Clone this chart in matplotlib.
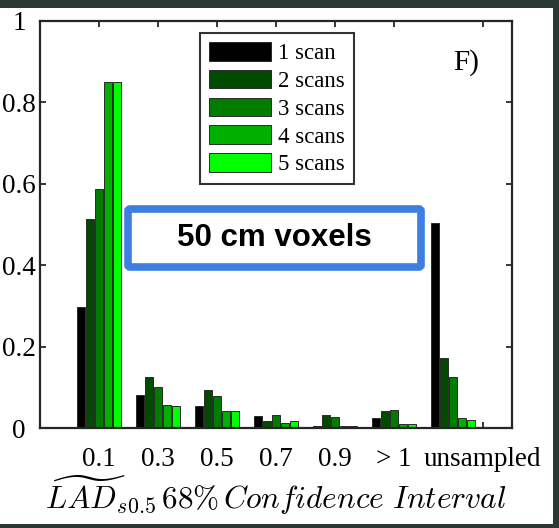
import matplotlib
matplotlib.use("Agg")
import matplotlib.pyplot as plt
from matplotlib.patches import Rectangle, FancyBboxPatch
import numpy as np

plt.rcParams['font.family'] = ['Liberation Serif', 'DejaVu Serif']
plt.rcParams['mathtext.fontset'] = 'cm'

categories = ['0.1', '0.3', '0.5', '0.7', '0.9', '> 1', 'unsampled']
series_labels = ['1 scan', '2 scans', '3 scans', '4 scans', '5 scans']
scan1 = [0.298, 0.080, 0.054, 0.029, 0.006, 0.024, 0.504]
scan2 = [0.514, 0.125, 0.093, 0.017, 0.031, 0.042, 0.171]
scan3 = [0.587, 0.101, 0.078, 0.031, 0.026, 0.045, 0.125]
scan4 = [0.849, 0.056, 0.041, 0.012, 0.005, 0.010, 0.025]
scan5 = [0.851, 0.053, 0.041, 0.017, 0.005, 0.010, 0.020]
series = [scan1, scan2, scan3, scan4, scan5]
colors = ['#000000', '#004b00', '#007d00', '#00b000', '#00ff00']
yticks = [0, 0.2, 0.4, 0.6, 0.8, 1]
ytick_labels = ['0', '0.2', '0.4', '0.6', '0.8', '1']

W, H = 559, 528
fig = plt.figure(figsize=(W / 100, H / 100), dpi=100)
fig.patch.set_facecolor('white')

# axes placement (pixels)
L, R, T, B = 40, 512, 21, 428
ax = fig.add_axes([L / W, 1 - B / H, (R - L) / W, (B - T) / H])

x = np.arange(1, len(categories) + 1)
step = 0.153
for i, (vals, c, lab) in enumerate(zip(series, colors, series_labels)):
    ax.bar(x + (i - 2) * step, vals, width=0.15, color=c, edgecolor='#2a2a2a',
           linewidth=0.7, label=lab, zorder=2)

ax.set_xlim(0, 8)
ax.set_ylim(0, 1)
tickpos = [1, 2, 3, 4, 5, 6, 7.5]
ax.set_xticks(tickpos)
ax.set_xticklabels(categories, fontsize=19.5)
ax.set_yticks(yticks)
ax.set_yticklabels(ytick_labels, fontsize=19.5)
for t in ax.get_yticklabels():
    t.set_horizontalalignment('center')
ax.tick_params(axis='both', direction='in', length=4.5, width=1.3, color='#262626',
               top=True, right=True)
ax.tick_params(axis='x', pad=14)
ax.tick_params(axis='y', pad=15)
for s in ax.spines.values():
    s.set_linewidth(1.6)
    s.set_color('#262626')

ax.set_xlabel(r'$\widetilde{LAD}_{s0.5}\,68\%\,Confidence\ Interval$', fontsize=22.5)
ax.xaxis.set_label_coords(0.5, -(474 - B) / (B - T))

leg = ax.legend(loc='upper left', bbox_to_anchor=(200 / W, 1 - 33 / H),
                bbox_transform=fig.transFigure, borderaxespad=0,
                fontsize=16.5, handlelength=2.7, handleheight=0.87,
                labelspacing=0.24, handletextpad=0.3, borderpad=0.4,
                fancybox=False, edgecolor='#333333', framealpha=1)
leg.get_frame().set_linewidth(1.5)

fig.text(466 / W, 1 - 63 / H, 'F)', fontsize=21, ha='center', va='center')

# blue annotation box
box = FancyBboxPatch((128 / W, 1 - 267 / H), (421 - 128) / W, (267 - 209) / H,
                     boxstyle='round,pad=0,rounding_size=0.004',
                     transform=fig.transFigure, facecolor='white',
                     edgecolor='#3d7fe0', linewidth=5.5, zorder=5)
fig.patches.append(box)
fig.text(274 / W, 1 - 238 / H, '50 cm voxels', fontsize=22.5, fontweight='bold',
         family='Liberation Sans', ha='center', va='center', zorder=6)

# dark screenshot borders
dark = '#2c3836'
fig.patches.append(Rectangle((0, 1 - 8 / H), 1, 8 / H, transform=fig.transFigure,
                             facecolor=dark, edgecolor='none', zorder=10))
fig.patches.append(Rectangle((553 / W, 0), 6 / W, 1, transform=fig.transFigure,
                             facecolor=dark, edgecolor='none', zorder=10))
fig.patches.append(Rectangle((0, 0), 1, 4 / H, transform=fig.transFigure,
                             facecolor=dark, edgecolor='none', zorder=10))

fig.savefig('out.png', dpi=100)
